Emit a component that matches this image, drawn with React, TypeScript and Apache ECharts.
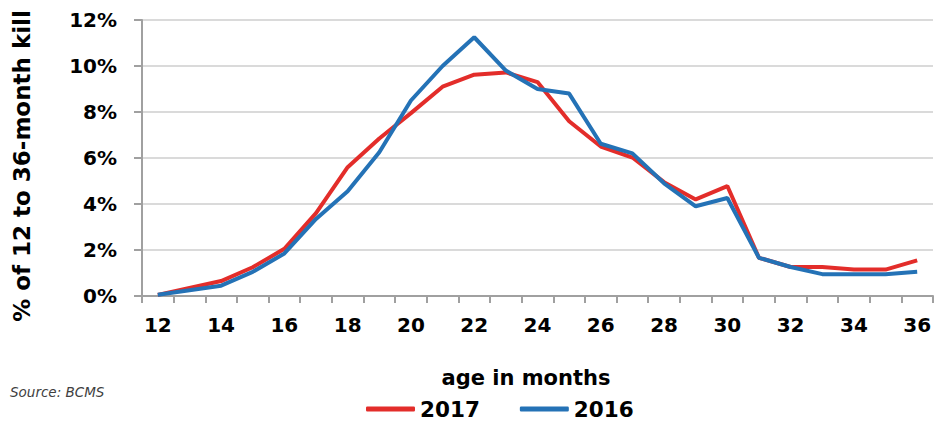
import React, { useEffect, useRef } from "react";
import * as echarts from "echarts";

const months = ["12","13","14","15","16","17","18","19","20","21","22","23","24","25","26","27","28","29","30","31","32","33","34","35","36"];
const values2017 = [0.05,0.35,0.65,1.25,2.05,3.6,5.6,6.85,7.95,9.1,9.62,9.72,9.3,7.6,6.5,6.02,4.95,4.2,4.78,1.66,1.26,1.26,1.15,1.15,1.55];
const values2016 = [0.05,0.25,0.45,1.05,1.85,3.35,4.55,6.25,8.5,10.0,11.25,9.8,9.0,8.8,6.62,6.2,4.9,3.9,4.26,1.66,1.26,0.95,0.95,0.95,1.05];
const yTicks = [0, 2, 4, 6, 8, 10, 12];
const seriesNames = ["2017", "2016"];
const colors = ["#E32D2A", "#2472B6"];

const FONT = "'DejaVu Sans', Verdana, sans-serif";

export default function App() {
  const ref = useRef<HTMLDivElement>(null);
  useEffect(() => {
    if (!ref.current) return;
    const chart = echarts.init(ref.current, undefined, { renderer: "svg" });
    chart.setOption({
      animation: false,
      backgroundColor: "#ffffff",
      grid: { left: 142, right: 13, top: 20, bottom: 132, containLabel: false },
      xAxis: {
        type: "category",
        data: months,
        boundaryGap: true,
        axisLine: { show: true, lineStyle: { color: "#A0A0A0", width: 2 } },
        axisTick: { show: true, interval: 0, length: 7, lineStyle: { color: "#A0A0A0", width: 2 } },
        axisLabel: {
          interval: 1,
          margin: 19,
          color: "#000",
          fontFamily: FONT,
          fontWeight: "bold",
          fontSize: 20,
        },
        splitLine: { show: false },
      },
      yAxis: {
        type: "value",
        min: yTicks[0],
        max: yTicks[yTicks.length - 1],
        interval: 2,
        axisLine: { show: true, lineStyle: { color: "#A0A0A0", width: 2 } },
        axisTick: { show: true, length: 8, lineStyle: { color: "#A0A0A0", width: 2 } },
        axisLabel: {
          formatter: "{value}%",
          margin: 25,
          color: "#000",
          fontFamily: FONT,
          fontWeight: "bold",
          fontSize: 20,
        },
        splitLine: { show: true, lineStyle: { color: "#DADADA", width: 2 } },
      },
      legend: {
        left: 366,
        top: 398,
        padding: 0,
        itemGap: 40,
        itemWidth: 49,
        itemHeight: 5,
        icon: "roundRect",
        textStyle: { color: "#000", fontFamily: FONT, fontWeight: "bold", fontSize: 21.5 },
        data: seriesNames,
      },
      graphic: [
        {
          type: "text",
          x: 22,
          y: 166,
          rotation: Math.PI / 2,
          style: {
            text: "% of 12 to 36-month kill",
            fill: "#000",
            font: `bold 23px ${FONT}`,
            textAlign: "center",
            textVerticalAlign: "middle",
          },
        },
        {
          type: "text",
          x: 526,
          y: 378,
          style: {
            text: "age in months",
            fill: "#000",
            font: `bold 21px ${FONT}`,
            textAlign: "center",
            textVerticalAlign: "middle",
          },
        },
        {
          type: "text",
          x: 10,
          y: 392,
          style: {
            text: "Source: BCMS",
            fill: "#404040",
            font: `italic 13.5px ${FONT}`,
            textAlign: "left",
            textVerticalAlign: "middle",
          },
        },
      ],
      series: [
        {
          name: seriesNames[0],
          type: "line",
          data: values2017,
          symbol: "none",
          lineStyle: { color: colors[0], width: 4 },
          itemStyle: { color: colors[0] },
          z: 2,
        },
        {
          name: seriesNames[1],
          type: "line",
          data: values2016,
          symbol: "none",
          lineStyle: { color: colors[1], width: 4 },
          itemStyle: { color: colors[1] },
          z: 3,
        },
      ],
    });
    return () => chart.dispose();
  }, []);
  return <div ref={ref} style={{ width: 946, height: 428, position: "absolute", left: 0, top: 0 }} />;
}
